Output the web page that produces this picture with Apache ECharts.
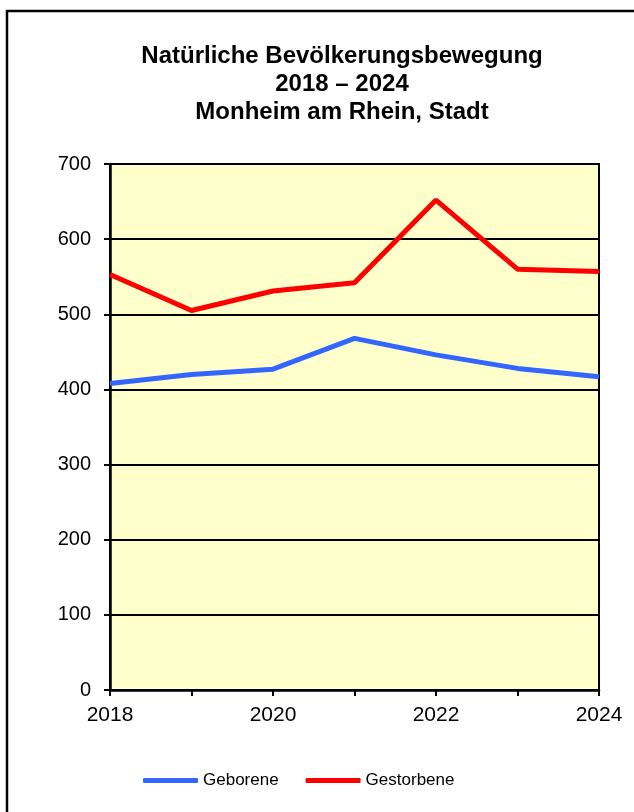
<!DOCTYPE html>
<html style="height: 100%">
<head>
<meta charset="utf-8">
<script src="https://cdn.jsdelivr.net/npm/echarts@6/dist/echarts.min.js"></script>
</head>
<body style="height: 100%; margin: 0; background: #fff">
<div id="container" style="width: 634px; height: 812px;"></div>
<script type="text/javascript">
var years = ['2018', '2019', '2020', '2021', '2022', '2023', '2024'];
var geborene = [408, 420, 427, 468, 446, 428, 417];
var gestorbene = [553, 505, 531, 542, 652, 560, 557];
var titleLines = ['Natürliche Bevölkerungsbewegung', '2018 – 2024', 'Monheim am Rhein, Stadt'];

var myChart = echarts.init(document.getElementById('container'));
var option = {
    backgroundColor: '#fff',
    animation: false,
    textStyle: { fontFamily: '"Liberation Sans", Arial, sans-serif' },
    graphic: [{
        type: 'rect',
        shape: { x: 7, y: 11, width: 700, height: 900 },
        style: { fill: 'none', stroke: '#000', lineWidth: 2.5 }
    }],
    title: {
        text: titleLines.join('\n'),
        left: 337,
        top: 37,
        textAlign: 'center',
        textStyle: {
            fontSize: 24, fontWeight: 'bold', color: '#000', lineHeight: 28,
            fontFamily: '"Liberation Sans", Arial, sans-serif'
        }
    },
    legend: {
        left: 143,
        top: 772,
        padding: 0,
        itemWidth: 55,
        itemHeight: 5,
        itemGap: 27,
        icon: 'roundRect',
        textStyle: { fontSize: 17, color: '#000' },
        data: ['Geborene', 'Gestorbene']
    },
    grid: {
        left: 110, right: 35, top: 164, bottom: 122,
        show: true,
        backgroundColor: '#FFFFCC',
        borderColor: '#000',
        borderWidth: 2
    },
    xAxis: {
        type: 'category',
        data: years,
        boundaryGap: false,
        axisLine: { lineStyle: { color: '#000', width: 2.5 } },
        axisTick: { show: true, interval: 0, length: 6, lineStyle: { color: '#000', width: 2 } },
        axisLabel: { interval: 1, fontSize: 21, color: '#000', margin: 15 },
        splitLine: { show: false }
    },
    yAxis: {
        type: 'value',
        min: 0, max: 700, interval: 100,
        axisLine: { show: true, lineStyle: { color: '#000', width: 2.5 } },
        axisTick: { show: true, length: 6, lineStyle: { color: '#000', width: 2 } },
        axisLabel: { fontSize: 20, color: '#000', margin: 19 },
        splitLine: { show: true, lineStyle: { color: '#000', width: 2 } }
    },
    series: [{
        name: 'Geborene',
        type: 'line',
        data: geborene,
        symbol: 'none',
        itemStyle: { color: '#3366FF' },
        lineStyle: { color: '#3366FF', width: 5 }
    }, {
        name: 'Gestorbene',
        type: 'line',
        data: gestorbene,
        symbol: 'none',
        itemStyle: { color: '#FF0000' },
        lineStyle: { color: '#FF0000', width: 5 }
    }]
};
myChart.setOption(option);
</script>
</body>
</html>
